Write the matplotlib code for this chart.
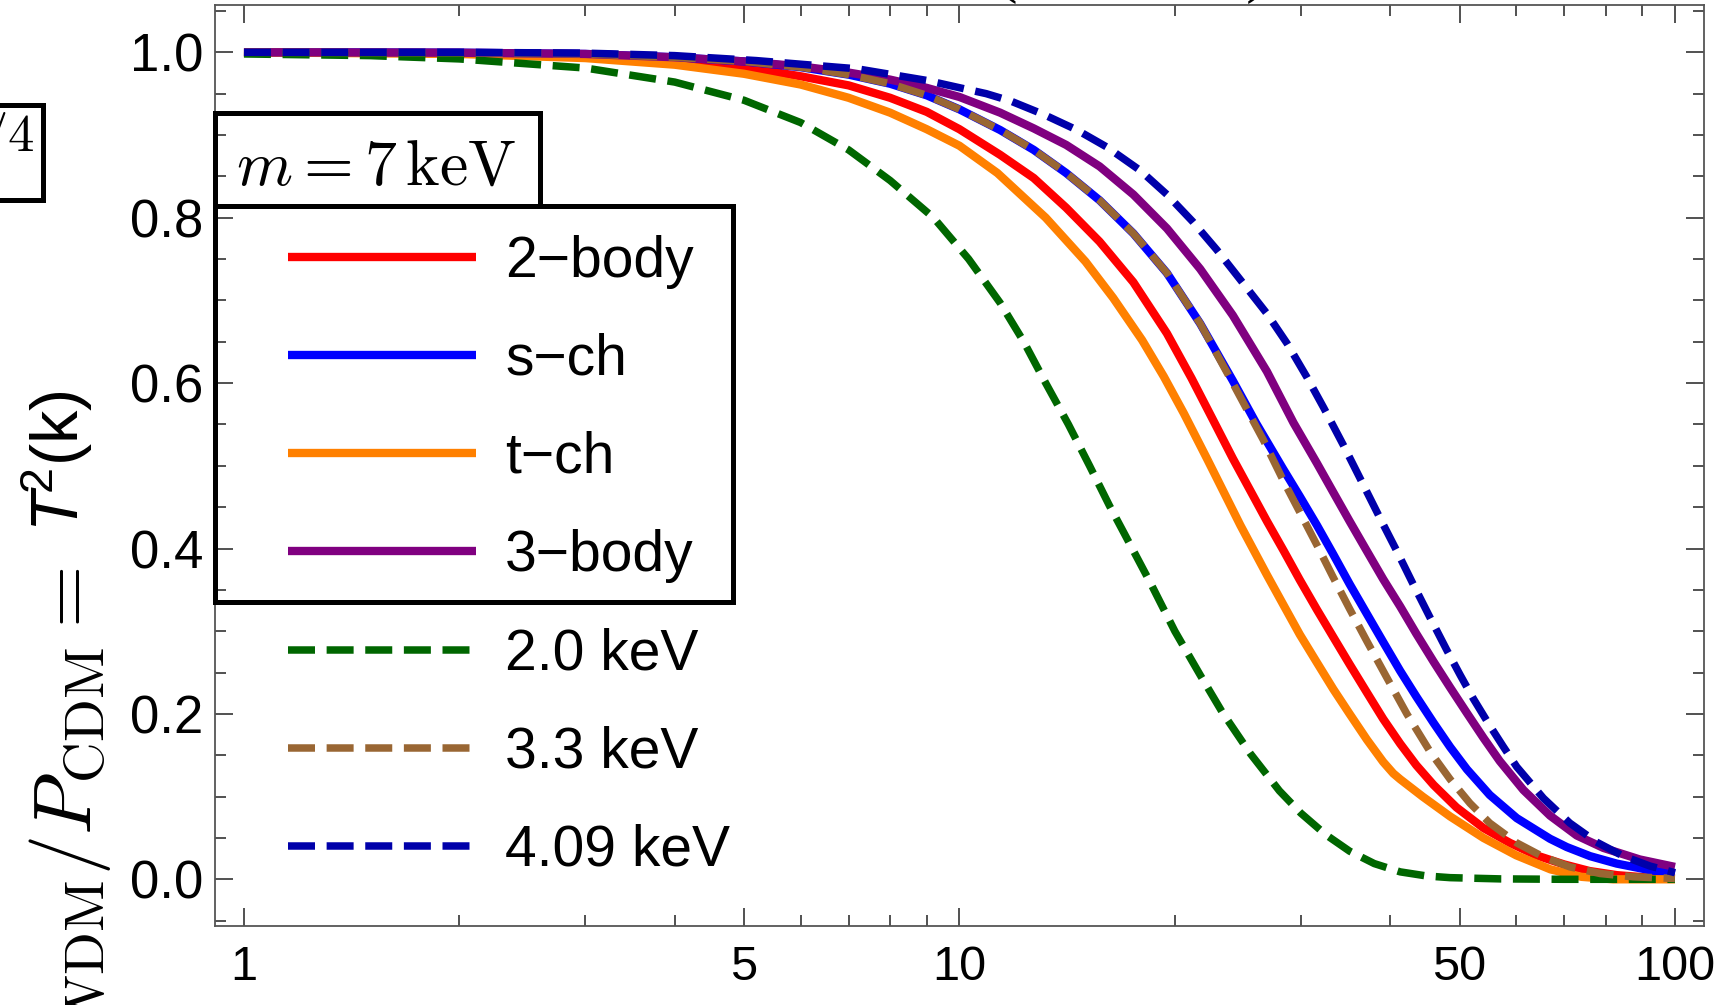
import numpy as np
import matplotlib
matplotlib.use("Agg")
import matplotlib.pyplot as plt
from matplotlib.patches import Rectangle
from matplotlib.ticker import FixedLocator, NullFormatter

plt.rcParams['font.family'] = ['Liberation Sans', 'DejaVu Sans']
plt.rcParams['mathtext.fontset'] = 'custom'
plt.rcParams['mathtext.rm'] = 'Liberation Sans'
plt.rcParams['mathtext.it'] = 'Liberation Sans:italic'
plt.rcParams['mathtext.bf'] = 'Liberation Sans:bold'

# ---------------- data: T^2(k) versus k ----------------
k_two_body = [1, 2, 3, 4, 5, 6, 7, 8, 9, 10, 11.4, 12.7, 14.1, 15.7, 17.5, 19.5, 21.1, 22.6,
              24.1, 25.5, 26.9, 28.4, 29.9, 31.6, 33.3, 35.1, 37.1, 39.1, 41.3, 43.5, 46.0,
              49.5, 54.0, 58.8, 64.0, 70.0, 76.0, 83.0, 92.0, 100]
t2_two_body = [1.0, 0.999, 0.995, 0.988, 0.982, 0.971, 0.960, 0.945, 0.928, 0.907, 0.876, 0.848,
               0.812, 0.771, 0.722, 0.660, 0.606, 0.556, 0.509, 0.470, 0.433, 0.397, 0.362,
               0.326, 0.293, 0.260, 0.226, 0.194, 0.164, 0.138, 0.114, 0.087, 0.062, 0.044,
               0.029, 0.018, 0.010, 0.005, 0.002, 0.001]

k_s_ch = [1, 2, 3, 4, 5, 6, 7, 8, 9, 10, 11.4, 12.7, 14.1, 15.7, 17.5, 19.5, 21.7, 24.1, 26.0,
          28.3, 29.9, 31.6, 33.3, 35.1, 37.1, 39.1, 41.3, 43.5, 46.0, 48.5, 51.2, 55.1, 60.1,
          66.9, 70.6, 76.1, 82.9, 92.3, 100]
t2_s_ch = [1.0, 0.9995, 0.998, 0.994, 0.989, 0.982, 0.973, 0.962, 0.948, 0.931, 0.906, 0.882,
           0.854, 0.821, 0.781, 0.733, 0.672, 0.603, 0.551, 0.497, 0.463, 0.428, 0.393, 0.357,
           0.321, 0.287, 0.252, 0.221, 0.189, 0.160, 0.133, 0.102, 0.074, 0.049, 0.039, 0.028,
           0.019, 0.011, 0.007]

k_t_ch = [1, 2, 3, 4, 5, 6, 7, 8, 9, 10, 11.3, 13.2, 15.0, 16.4, 18.0, 19.3, 20.6, 22.2, 24.7,
          26.9, 28.4, 29.9, 31.6, 33.3, 35.1, 37.1, 39.1, 40.4, 41.3, 44.4, 48.5, 54.0, 60.0,
          67.0, 74.0, 82.0, 100]
t2_t_ch = [1.0, 0.998, 0.993, 0.985, 0.974, 0.961, 0.945, 0.927, 0.907, 0.887, 0.854, 0.800,
           0.747, 0.703, 0.652, 0.608, 0.563, 0.508, 0.428, 0.368, 0.331, 0.296, 0.262, 0.230,
           0.200, 0.169, 0.142, 0.128, 0.121, 0.100, 0.076, 0.050, 0.029, 0.012, 0.003, 0.0,
           0.0]

k_three_body = [1, 2, 3, 4, 5, 6, 7, 8, 9, 10, 11.4, 12.7, 14.1, 15.7, 17.5, 19.5, 21.7, 24.1,
                26.9, 29.3, 31.6, 33.3, 35.1, 37.1, 39.1, 41.3, 43.5, 46.0, 48.5, 51.2, 54.0,
                56.9, 61.4, 66.9, 72.9, 79.4, 89.3, 100]
t2_three_body = [1.0, 0.9995, 0.998, 0.994, 0.989, 0.983, 0.9755, 0.967, 0.957, 0.946, 0.927,
                 0.908, 0.888, 0.862, 0.828, 0.787, 0.738, 0.682, 0.614, 0.552, 0.503, 0.468,
                 0.433, 0.397, 0.363, 0.330, 0.297, 0.263, 0.232, 0.201, 0.171, 0.143, 0.108,
                 0.077, 0.053, 0.038, 0.024, 0.015]

k_wdm_2p0 = [1, 1.5, 2, 3, 4, 5, 6, 7, 8, 9.2, 10.3, 11.4, 12.3, 13.2, 14.2, 15.2, 16.2, 17.0,
             18.5, 20.0, 21.7, 23.3, 25.5, 28.0, 30.0, 32.5, 35.1, 38.0, 41.3, 45.0, 48.5, 57.0,
             70.0, 100]
t2_wdm_2p0 = [0.998, 0.996, 0.992, 0.981, 0.964, 0.942, 0.915, 0.882, 0.845, 0.800, 0.750,
              0.697, 0.650, 0.600, 0.550, 0.500, 0.452, 0.418, 0.358, 0.300, 0.247, 0.202,
              0.152, 0.107, 0.080, 0.054, 0.034, 0.019, 0.009, 0.004, 0.002, 0.0005, 0.0, 0.0]

k_wdm_3p3 = [1, 2, 3, 4, 5, 6, 7, 8, 9, 10, 11.4, 12.7, 14.1, 15.7, 17.5, 19.5, 21.7, 24.1, 26.6,
             28.4, 29.9, 31.6, 33.3, 35.1, 37.1, 39.5, 42.2, 45.5, 48.5, 51.7, 55.1, 60.1, 65.5,
             71.3, 78.6, 87.4, 100]
t2_wdm_3p3 = [1.0, 0.9995, 0.998, 0.994, 0.989, 0.982, 0.973, 0.962, 0.948, 0.931, 0.906, 0.882,
              0.854, 0.821, 0.781, 0.733, 0.672, 0.600, 0.531, 0.481, 0.444, 0.404, 0.365,
              0.327, 0.288, 0.245, 0.200, 0.154, 0.121, 0.092, 0.068, 0.044, 0.027, 0.015,
              0.007, 0.003, 0.001]

k_wdm_4p09 = [1, 2, 3, 4, 5.2, 7.2, 9.0, 10.9, 11.8, 13.1, 14.6, 16.1, 17.9, 19.5, 21.2, 22.9,
              24.9, 26.9, 28.7, 30.6, 32.3, 34.4, 36.1, 38.9, 40.8, 43.0, 45.5, 48.0, 50.1, 52.3,
              55.0, 57.5, 60.1, 65.5, 71.3, 77.7, 84.7, 92.3, 100]
t2_wdm_4p09 = [1.0, 1.0, 0.999, 0.996, 0.990, 0.980, 0.966, 0.950, 0.941, 0.925, 0.906, 0.885,
               0.857, 0.828, 0.795, 0.761, 0.721, 0.684, 0.648, 0.607, 0.570, 0.525, 0.489,
               0.433, 0.398, 0.358, 0.316, 0.277, 0.247, 0.218, 0.187, 0.161, 0.136, 0.098,
               0.068, 0.045, 0.028, 0.016, 0.008]

labels = ['2\u2212body', 's\u2212ch', 't\u2212ch', '3\u2212body',
          '2.0 keV', '3.3 keV', '4.09 keV']
colors = ['#FF0000', '#0000FF', '#FF8000', '#800080', '#006600', '#996633', '#0000AA']
x_major = [1, 5, 10, 50, 100]
x_minor = [2, 3, 4, 6, 7, 8, 9, 20, 30, 40, 60, 70, 80, 90]
y_major = [0.0, 0.2, 0.4, 0.6, 0.8, 1.0]

# ---------------- figure geometry (pixels) ----------------
W, H = 1722, 1005
fig = plt.figure(figsize=(W / 100, H / 100), dpi=100)


def fx(px):
    return px / W


def fy(py):
    return 1 - py / H


ax = fig.add_axes([fx(215), fy(925.7), fx(1704) - fx(215), fy(5.5) - fy(925.7)])
ax.set_xscale('log')
ax.set_xlim(0.911, 109.8)
ax.set_ylim(-0.0561, 1.0566)

curves = [(k_two_body, t2_two_body), (k_s_ch, t2_s_ch), (k_t_ch, t2_t_ch),
          (k_three_body, t2_three_body), (k_wdm_2p0, t2_wdm_2p0),
          (k_wdm_3p3, t2_wdm_3p3), (k_wdm_4p09, t2_wdm_4p09)]

handles = []
for i, ((kk, tt), lab, col) in enumerate(zip(curves, labels, colors)):
    if i < 4:
        ln, = ax.plot(kk, tt, color=col, lw=6, solid_capstyle='butt',
                      solid_joinstyle='round', label=lab, zorder=2 + i)
    else:
        ln, = ax.plot(kk, tt, color=col, lw=5.4, dashes=(3.6, 1.55),
                      dash_capstyle='butt', dash_joinstyle='round', label=lab,
                      zorder=2 + i)
    handles.append(ln)

# ---------------- axes styling ----------------
ax.xaxis.set_major_locator(FixedLocator(x_major))
ax.set_xticklabels([str(v) for v in x_major])
ax.xaxis.set_minor_locator(FixedLocator(x_minor))
ax.xaxis.set_minor_formatter(NullFormatter())
ax.yaxis.set_major_locator(FixedLocator(y_major))
ax.set_yticklabels([f'{v:.1f}' for v in y_major])
ax.yaxis.set_minor_locator(FixedLocator(np.round(np.arange(-0.05, 1.051, 0.05), 2)))
ax.yaxis.set_minor_formatter(NullFormatter())

ax.tick_params(which='both', direction='in', top=True, right=True,
               color='#333333', width=1.2)
ax.tick_params(which='major', length=13)
ax.tick_params(which='minor', length=8)
ax.tick_params(axis='x', which='major', pad=14, labelsize=35)
ax.tick_params(axis='y', which='major', pad=8.5, labelsize=38)
for sp in ax.spines.values():
    sp.set_color('#555555')
    sp.set_linewidth(1.3)

# ---------------- legend ----------------
ax.legend(handles, labels, loc='upper left',
          bbox_to_anchor=(fx(288), fy(234.5)), bbox_transform=fig.transFigure,
          frameon=False, fontsize=41, handlelength=3.30, handletextpad=0.51,
          labelspacing=0.777, borderpad=0, borderaxespad=0)

# boxes framing the mass label and the first four legend entries
fig.add_artist(Rectangle((fx(215), fy(206)), fx(540) - fx(215), fy(113) - fy(206),
                         transform=fig.transFigure, fill=False, edgecolor='black',
                         lw=3.6, zorder=10))
fig.add_artist(Rectangle((fx(215), fy(602)), fx(733) - fx(215), fy(206) - fy(602),
                         transform=fig.transFigure, fill=False, edgecolor='black',
                         lw=3.6, zorder=10))
fig.text(fx(376), fy(185), r'$m = 7\,\mathrm{keV}$', ha='center', va='baseline',
         fontsize=46, math_fontfamily='cm')

# boxed fragment on the far left
fig.add_artist(Rectangle((fx(-30), fy(200)), fx(43) - fx(-30), fy(105) - fy(200),
                         transform=fig.transFigure, fill=False, edgecolor='black',
                         lw=3.6, zorder=10))
fig.text(fx(35), fy(151), r'$1/4$', ha='right', va='baseline', fontsize=38,
         math_fontfamily='cm')

# title (mostly above the canvas)
fig.text(fx(1132), fy(-10), '(freeze-in)', ha='center', va='baseline',
         fontsize=46.5, family='Liberation Serif')

# ---------------- y label ----------------
t_sans = fig.text(fx(79), fy(390), r'$\mathit{T}^{\!2}\mathrm{(k)}$', rotation=90,
                  rotation_mode='anchor', ha='right', va='baseline', fontsize=48,
                  math_fontfamily='custom')
renderer = fig.canvas.get_renderer()
bb = t_sans.get_window_extent(renderer)
fig.text(fx(91), (bb.y0 - 36) / H, r'$P_{\mathrm{WDM}}/P_{\mathrm{CDM}} =$', rotation=90,
         rotation_mode='anchor', ha='right', va='baseline', fontsize=58,
         math_fontfamily='cm')

fig.savefig('out.png', dpi=100)
